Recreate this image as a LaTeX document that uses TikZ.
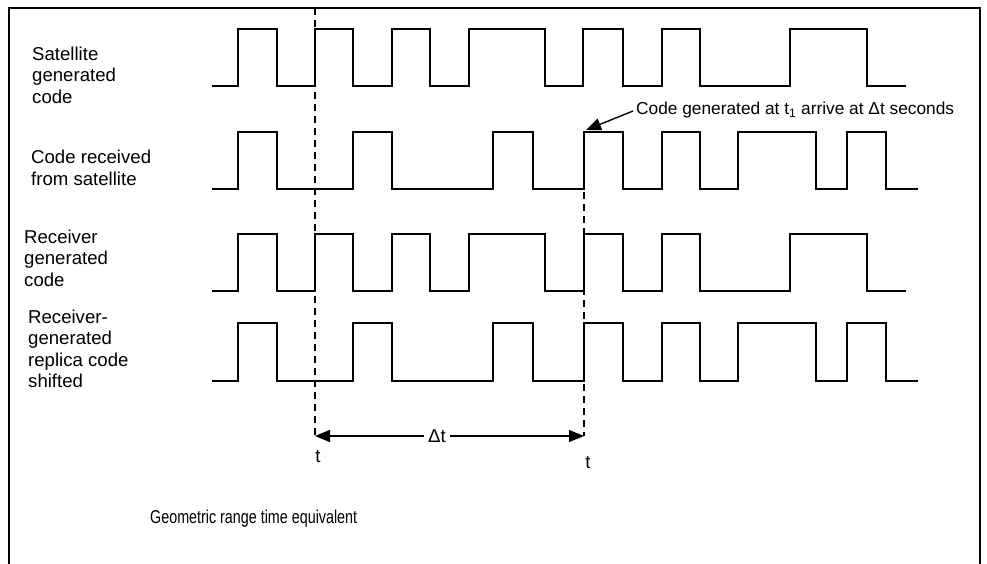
\documentclass[tikz,border=0pt]{standalone}
\usepackage{fontspec}
\setmainfont{Liberation Sans}
\usetikzlibrary{arrows.meta}
\begin{document}
\begin{tikzpicture}[x=1pt,y=-1pt,
  wave/.style={line width=1.8pt,line join=miter},
  frame/.style={line width=1.4pt},
  guide/.style={line width=1.2pt,dash pattern=on 7pt off 5pt},
  lbl/.style={anchor=north west,align=left,inner sep=0pt,font=\fontsize{18.6}{21.5}\selectfont},
  txt/.style={inner sep=0pt,font=\fontsize{18.6}{21.5}\selectfont},
  big/.style={-{Triangle[length=15pt,width=12pt]}},
]
\useasboundingbox (0,0) rectangle (987,564);
% frame
\draw[frame] (9,564) -- (9,8) -- (980,8) -- (980,564);
% labels
\node[lbl] (l1) at (32,46.5) {Satellite\\generated\\code};
\node[lbl] (l2) at (31,150) {Code received\\from satellite};
\node[lbl] (l3) at (24,229.5) {Receiver\\generated\\code};
\node[lbl] (l4) at (28,309.5) {Receiver-\\generated\\replica code\\shifted};
% waveforms
\draw[wave] (212,86) -| (238,29) -| (277,86) -| (315,29) -| (353,86) -| (392,29) -| (430,86) -| (469,29) -| (545,86) -| (583,29) -| (623,86) -| (662,29) -| (700,86) -| (790,29) -| (867,86) -- (906,86);
\draw[wave] (212,189) -| (238,132) -| (277,189) -| (353,132) -| (392,189) -| (493,132) -| (533,189) -| (584,132) -| (623,189) -| (662,132) -| (700,189) -| (738,132) -| (816,189) -| (847,132) -| (886,189) -- (918,189);
\draw[wave] (212,291) -| (238,234) -| (277,291) -| (315,234) -| (353,291) -| (392,234) -| (430,291) -| (469,234) -| (545,291) -| (584,234) -| (623,291) -| (662,234) -| (700,291) -| (790,234) -| (867,291) -- (906,291);
\draw[wave] (212,381) -| (238,323) -| (277,381) -| (353,323) -| (392,381) -| (493,323) -| (533,381) -| (584,323) -| (623,381) -| (662,323) -| (700,381) -| (738,323) -| (816,381) -| (847,323) -| (886,381) -- (918,381);
% guide lines
\coordinate (gTop) at (315,8);
\coordinate (tL) at (315,436);
\coordinate (hTop) at (584,132);
\coordinate (tR) at (584,436);
\draw[guide] (gTop) -- (tL);
\draw[guide] (hTop) -- (tR);
% delta t arrow
\draw[line width=1.4pt,{Triangle[length=15pt,width=12pt]}-{Triangle[length=15pt,width=12pt]}] (tL) -- (tR);
\node[txt,fill=white,inner xsep=4pt,inner ysep=2pt] (dt) at (437,436) {Δt};
\node[txt] (t1) at (318,457) {t};
\node[txt] (t2) at (588,463) {t};
% annotation
\node[txt,anchor=west,font=\fontsize{17.3}{20}\selectfont] (ann) at (636,110) {Code generated at t\textsubscript{1} arrive at Δt seconds};
\coordinate (aT) at (586,130);
\draw[line width=1.4pt,big] ([shift={(-3,1)}]ann.west) -- (aT);
% bottom caption
\node[txt,anchor=west] (geo) at (150,519) {\scalebox{0.77}[1]{Geometric range time equivalent}};
\end{tikzpicture}
\end{document}
